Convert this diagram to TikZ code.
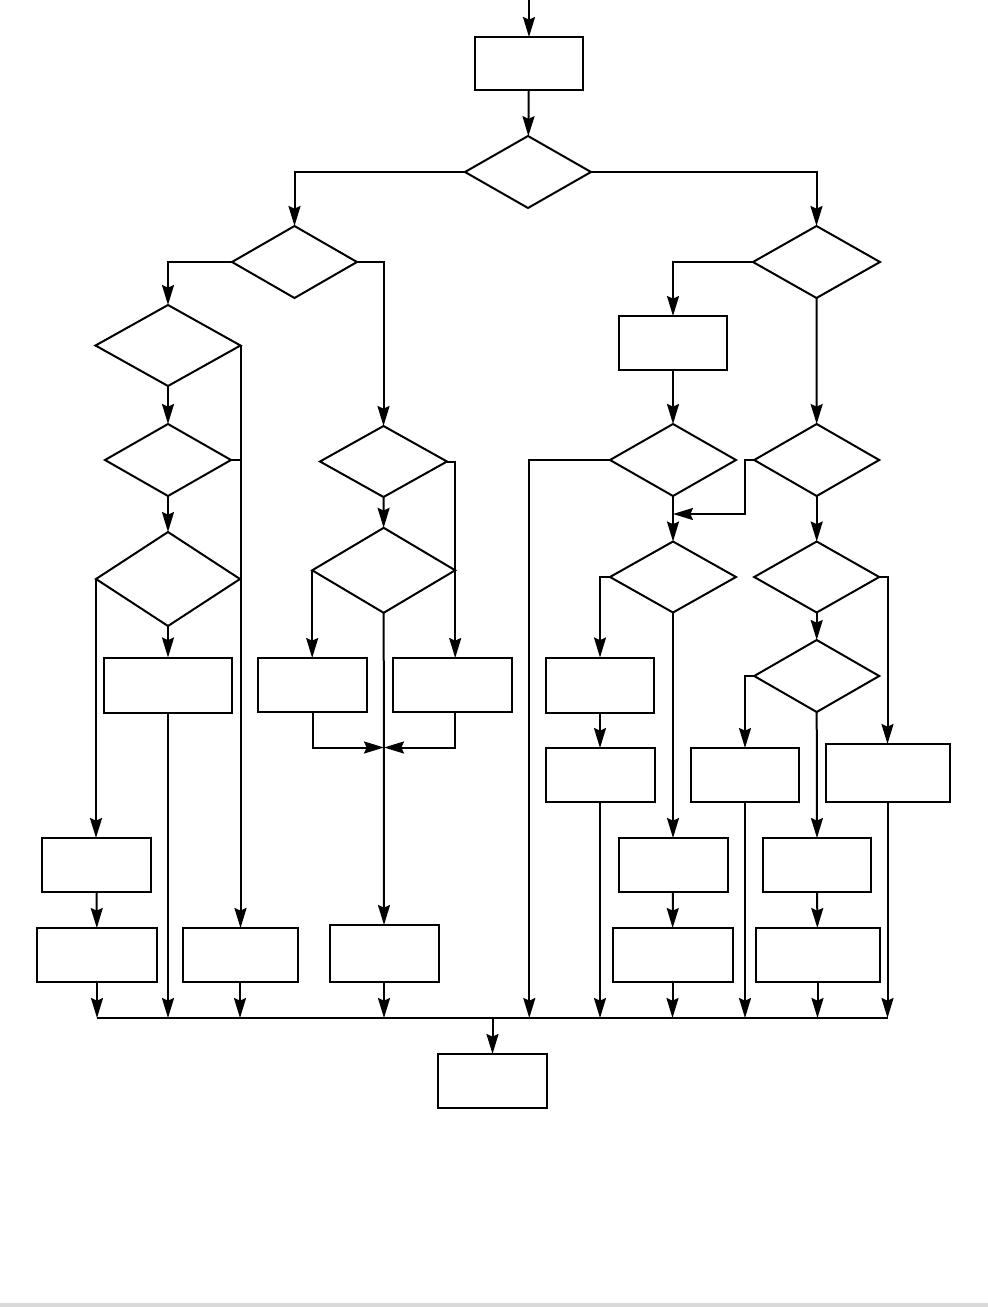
\documentclass[tikz,border=0pt]{standalone}
\usetikzlibrary{arrows.meta,shapes.geometric}

\tikzset{every picture/.append style={line width=1.5pt}}
\tikzset{
  pbox/.style 2 args={draw, rectangle, inner sep=0, outer sep=0, minimum width=#1*0.75pt, minimum height=#2*0.75pt},
  pdia/.style 2 args={draw, diamond, inner sep=0, outer sep=0, minimum width=#1*0.75pt, minimum height=#2*0.75pt},
  arr/.style={-{Stealth[length=15pt,width=9pt,inset=2pt]}}
}

\begin{document}
\begin{tikzpicture}[x=0.75pt,y=0.75pt,yscale=-1,xscale=1,line width=1.5pt]
\useasboundingbox (0,0) rectangle (988,1307);
%page edge
\fill[black!15] (0,1303) rectangle (988,1307);

%Shapes: top
\node[pbox={108}{53}] (bStart) at (529,63.5) {};
\node[pdia={126}{72}] (d0) at (528,172) {};
\node[pdia={125}{72}] (d1) at (294.5,262) {};
\node[pdia={127}{72}] (d2) at (816.5,262) {};

%Shapes: left branch
\node[pdia={145}{81}] (d3) at (168,345.5) {};
\node[pdia={126}{72}] (d4) at (168,460) {};
\node[pdia={144}{94}] (d5) at (168,579) {};
\node[pbox={128}{55}] (bB) at (168,685) {};
\node[pbox={109}{54}] (bA) at (96.5,865) {};
\node[pbox={120}{54}] (bD) at (97,955) {};
\node[pbox={115}{54}] (bC) at (240,955) {};

%Shapes: middle branch
\node[pdia={127}{71}] (d6) at (383.5,461.5) {};
\node[pdia={143}{85}] (d7) at (383.7,570.3) {};
\node[pbox={109}{54}] (bE) at (312.5,685) {};
\node[pbox={119}{54}] (bF) at (452.5,685) {};
\node[pbox={109}{57}] (bG) at (384,953.5) {};

%Shapes: right branch
\node[pbox={108}{54}] (bH) at (673,343) {};
\node[pdia={126}{72}] (d8) at (673,460) {};
\node[pdia={125}{72}] (d9) at (816.7,460) {};
\node[pdia={126}{71}] (d10) at (673,577) {};
\node[pdia={125}{71}] (d11) at (816.7,577) {};
\node[pdia={125}{72}] (d12) at (816.7,676) {};
\node[pbox={108}{55}] (bI) at (600,685) {};
\node[pbox={109}{54}] (bJ) at (600,775) {};
\node[pbox={108}{54}] (bK) at (745,775) {};
\node[pbox={124}{58}] (bL) at (887.5,773) {};
\node[pbox={109}{54}] (bM) at (673,865) {};
\node[pbox={120}{54}] (bN) at (672.5,955) {};
\node[pbox={108}{54}] (bO) at (817,865) {};
\node[pbox={124}{54}] (bP) at (817.5,955) {};
\node[pbox={109}{54}] (bEnd) at (492.5,1081) {};

%Coordinates
\coordinate (entry) at (529,0);
\coordinate (busL) at (96.5,1018);
\coordinate (busR) at (888,1018);
\coordinate (busD8) at (529.3,1018);
\coordinate (mrg) at (384,747.5);
\coordinate (mrgR) at (673,514);
\coordinate (d9bend) at (745,460);

%Lines: top
\draw[arr] (entry) -- (bStart.north);
\draw[arr] (bStart) -- (d0);
\draw[arr] (d0.west) -| (d1.north);
\draw[arr] (d0.east) -| (d2.north);

%Lines: left branch
\draw[arr] (d1.west) -| (d3.north);
\draw[arr] (d3) -- (d4);
\draw[arr] (d4) -- (d5);
\draw[arr] (d3.east) -- (d3.east |- bC.north);
\draw (d4.east) -- (d4.east -| d3.east);
\draw[arr] (d5.west) -- (d5.west |- bA.north);
\draw[arr] (d5) -- (bB);
\draw[arr] (bA) -- (bD);

%Lines: middle branch
\draw[arr] (d1.east) -| (d6.north);
\draw[arr] (d6) -- (d7);
\draw[arr] (d6.east) -| (d7.east) -- (d7.east |- bF.north);
\draw[arr] (d7.west) -- (d7.west |- bE.north);
\draw[arr] (d7.south) -- (bG.north);
\draw[arr] (bE.south) |- (mrg);
\draw[arr] (d7.east |- bF.south) |- (mrg);

%Lines: right branch
\draw[arr] (d2.west) -| (bH.north);
\draw[arr] (bH) -- (d8);
\draw[arr] (d2) -- (d9);
\draw[arr] (d8) -- (d10);
\draw[arr] (d9.west) -- (d9bend) |- (mrgR);
\draw[arr] (d9) -- (d11);
\draw[arr] (d10.west) -| (bI.north);
\draw[arr] (bI) -- (bJ);
\draw[arr] (d10.south) -- (bM.north);
\draw[arr] (bM) -- (bN);
\draw[arr] (d11.east) -| (bL.north);
\draw[arr] (d11) -- (d12);
\draw[arr] (d12.west) -| (bK.north);
\draw[arr] (d12.south) -- (bO.north);
\draw[arr] (bO) -- (bP);
\draw[arr] (d8.west) -| (busD8);

%Lines: bus
\draw (busL) -- (busR);
\foreach \n in {bD,bB,bC,bG,bJ,bN,bK,bP,bL}
  \draw[arr] (\n.south) -- (\n.south |- busL);
\draw[arr] (bEnd.north |- busL) -- (bEnd.north);

\end{tikzpicture}
\end{document}
